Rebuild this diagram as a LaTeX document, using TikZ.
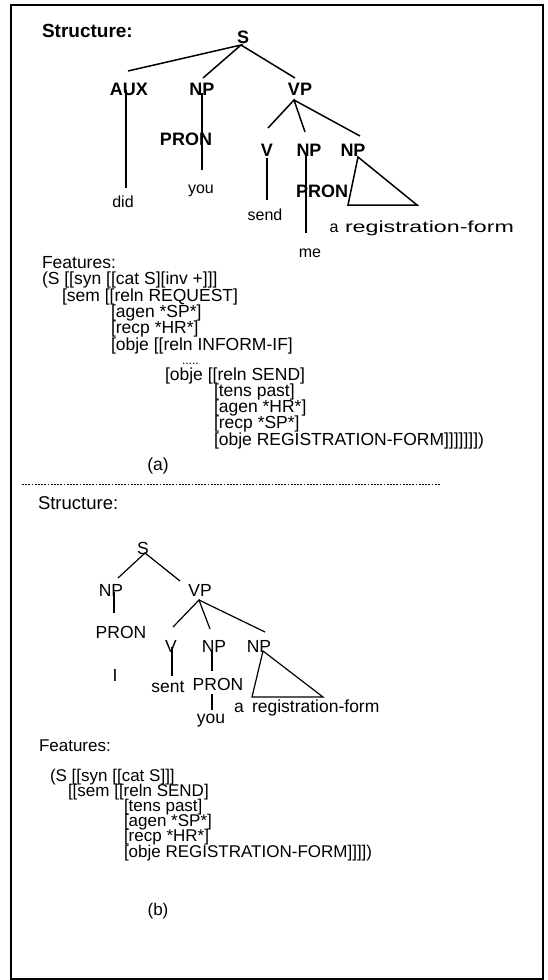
\documentclass[tikz,border=0pt]{standalone}
\usepackage{fontspec}
\setmainfont{Liberation Sans}
\begin{document}
\begin{tikzpicture}[x=1pt,y=-1pt,
  every node/.style={inner sep=0pt,outer sep=0pt,anchor=base},
  hd/.style={font=\fontsize{19}{19}\selectfont\bfseries,anchor=base west},
  hdr/.style={font=\fontsize{18.5}{18.5}\selectfont,anchor=base west},
  tb/.style={font=\fontsize{18}{18}\selectfont\bfseries},
  tr/.style={font=\fontsize{17.5}{17.5}\selectfont},
  lf/.style={font=\fontsize{16}{16}\selectfont},
  fa/.style={font=\fontsize{17.5}{17.5}\selectfont,anchor=base west},
  fb/.style={font=\fontsize{17}{17}\selectfont,anchor=base west},
  ea/.style={line width=1.5pt},
  eb/.style={line width=1.2pt},
  frame/.style={line width=1.5pt},
  sep/.style={line width=1pt,dash pattern=on 1.8pt off 1.4pt}]
\useasboundingbox (0,0) rectangle (547,980);
\draw[frame] (11,5) rectangle (543,979);

% ---------------- (a) tree ----------------
\node[hd] (structa) at (42,37) {Structure:};
\node[tb] (sa) at (243,43) {S};
\node[tb] (auxa) at (129,95) {AUX};
\node[tb] (npa) at (202,95) {NP};
\node[tb] (vpa) at (300,95) {VP};
\node[tb] (prona) at (186,145) {PRON};
\node[tb] (va) at (267,156) {V};
\node[tb] (npb) at (309,156) {NP};
\node[tb] (npc) at (353,156) {NP};
\node[tb] (pronb) at (322,197) {PRON};
\node[lf] (did) at (123,207) {did};
\node[lf] (youa) at (201,193) {you};
\node[lf] (senda) at (265,220) {send};
\node[lf] (mea) at (310,257) {me};
\node[lf] (arta) at (334,232) {a};
\node[lf,anchor=base west] (rega) at (345,232) {\scalebox{1.45}[1]{registration-form}};

\coordinate (sa0) at (241,45);
\coordinate (auxt) at (128,71);
\coordinate (npat) at (203,78);
\coordinate (vpat) at (295,78);
\draw[ea] (auxt) -- (sa0) -- (npat);
\draw[ea] (sa0) -- (vpat);
\coordinate (auxl1) at (126,90);
\coordinate (auxl2) at (126,188);
\draw[ea] (auxl1) -- (auxl2);
\coordinate (npal1) at (202,93);
\coordinate (npal2) at (202,170);
\draw[ea] (npal1) -- (npal2);
\coordinate (vpa0) at (294,100);
\coordinate (vat) at (268,128);
\coordinate (npbt) at (305,132);
\coordinate (npct) at (360,136);
\draw[ea] (vat) -- (vpa0) -- (npbt);
\draw[ea] (vpa0) -- (npct);
\coordinate (val1) at (267,158);
\coordinate (val2) at (267,200);
\draw[ea] (val1) -- (val2);
\coordinate (npbl1) at (306,153);
\coordinate (npbl2) at (306,233);
\draw[ea] (npbl1) -- (npbl2);
\coordinate (tria) at (358,157);
\coordinate (trib) at (348,205);
\coordinate (tric) at (417,205);
\draw[ea] (tria) -- (trib) -- (tric) -- cycle;

% ---------------- (a) features ----------------
\node[fa] (feata) at (42,268) {Features:};
\node[fa] (fa1) at (42,284.5) {(S [[syn [[cat S][inv +]]]};
\node[fa] (fa2) at (62,301) {[sem [[reln REQUEST]};
\node[fa] (fa3) at (111,317) {[agen *SP*]};
\node[fa] (fa4) at (111,333.5) {[recp *HR*]};
\node[fa] (fa5) at (111,350) {[obje [[reln INFORM-IF]};
\node[font=\fontsize{12}{12}\selectfont,anchor=base west] (dots) at (182,364) {.....};
\node[fa] (fa6) at (165,380) {[obje [[reln SEND]};
\node[fa] (fa7) at (214,396) {[tens past]};
\node[fa] (fa8) at (214,412.5) {[agen *HR*]};
\node[fa] (fa9) at (214,428.5) {[recp *SP*]};
\node[fa] (fa10) at (214,445) {[obje REGISTRATION-FORM]]]]]]])};
\node[fa,anchor=base] (capa) at (158,470) {(a)};

\coordinate (sepl) at (22,484);
\coordinate (sepr) at (440,484);
\draw[sep] (sepl) -- (sepr);

% ---------------- (b) tree ----------------
\node[hdr] (structb) at (38,509) {Structure:};
\node[tr] (sb) at (143,554) {S};
\node[tr] (npd) at (111,596) {NP};
\node[tr] (vpb) at (200,596) {VP};
\node[tr] (pronc) at (121,638) {PRON};
\node[tr] (vb) at (171,652) {V};
\node[tr] (npe) at (214,652) {NP};
\node[tr] (npf) at (259,652) {NP};
\node[tr] (ib) at (115,681) {I};
\node[tr] (sentb) at (168,692) {sent};
\node[tr] (prond) at (218,690) {PRON};
\node[tr] (artb) at (239,712) {a};
\node[tr,anchor=base west] (regb) at (252,712) {registration-form};
\node[tr] (youb) at (211,723) {you};

\coordinate (sb0) at (145,553);
\coordinate (npdt) at (118,578);
\coordinate (vpbt) at (180,581);
\draw[eb] (npdt) -- (sb0) -- (vpbt);
\coordinate (npdl1) at (114,592);
\coordinate (npdl2) at (114,613);
\draw[eb] (npdl1) -- (npdl2);
\coordinate (vpb0) at (199,600);
\coordinate (vbt) at (173,627);
\coordinate (npet) at (210,629);
\coordinate (npft) at (265,632);
\draw[eb] (vbt) -- (vpb0) -- (npet);
\draw[eb] (vpb0) -- (npft);
\coordinate (vbl1) at (172,647);
\coordinate (vbl2) at (172,676);
\draw[eb] (vbl1) -- (vbl2);
\coordinate (npel1) at (212,650);
\coordinate (npel2) at (212,671);
\draw[eb] (npel1) -- (npel2);
\coordinate (npel3) at (212,694);
\coordinate (npel4) at (212,710);
\draw[eb] (npel3) -- (npel4);
\coordinate (trd) at (263,651);
\coordinate (tre) at (252,697);
\coordinate (trf) at (323,697);
\draw[eb] (trd) -- (tre) -- (trf) -- cycle;

% ---------------- (b) features ----------------
\node[fb] (featb) at (39,751) {Features:};
\node[fb] (fb1) at (50,781) {(S [[syn [[cat S]]]};
\node[fb] (fb2) at (68,796.2) {[[sem [[reln SEND]};
\node[fb] (fb3) at (124,811.4) {[tens past]};
\node[fb] (fb4) at (124,826.6) {[agen *SP*]};
\node[fb] (fb5) at (124,841.8) {[recp *HR*]};
\node[fb] (fb6) at (124,857) {[obje REGISTRATION-FORM]]]])};
\node[fb,anchor=base] (capb) at (158,915) {(b)};
\end{tikzpicture}
\end{document}
